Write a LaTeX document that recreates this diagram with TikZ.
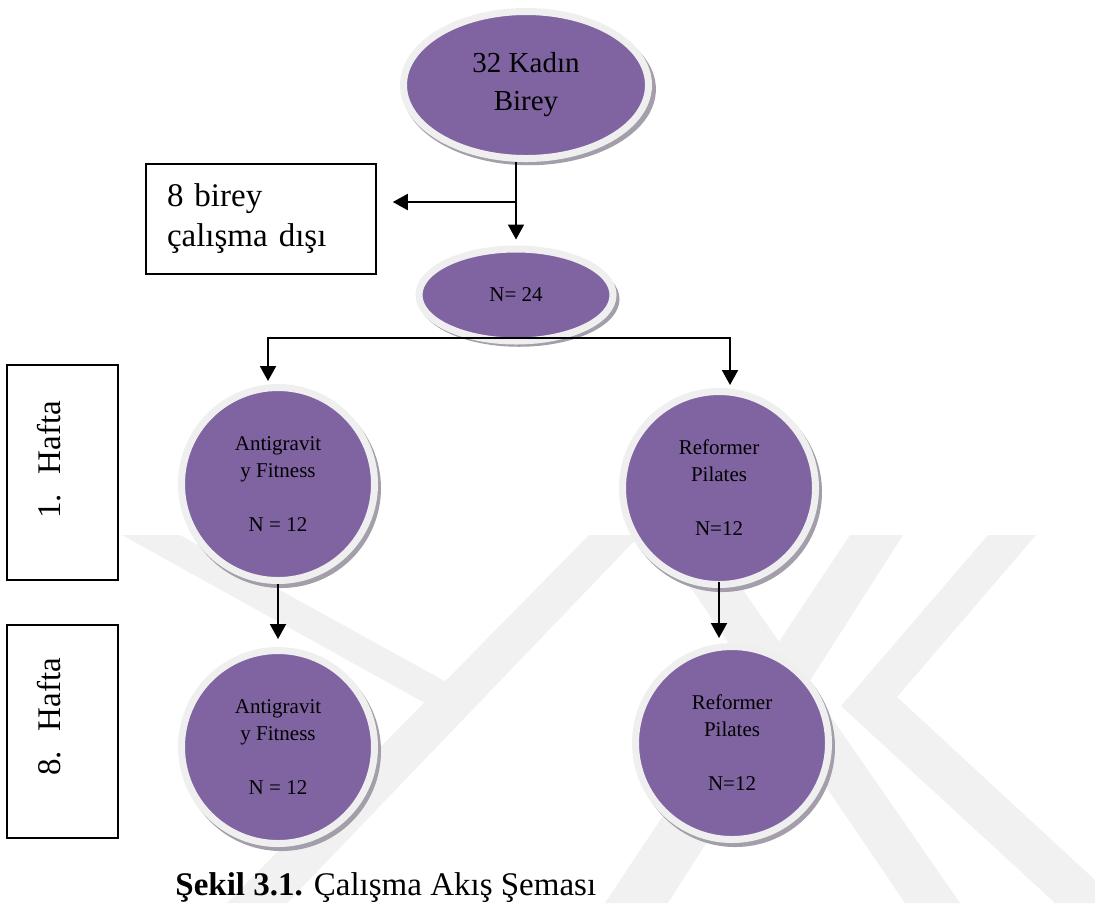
\documentclass[tikz,border=0pt]{standalone}
\usepackage{fontspec}
\setmainfont{Liberation Serif}
\usetikzlibrary{shapes.geometric,arrows.meta,shadows}

\definecolor{blobfill}{RGB}{128,100,162}
\definecolor{blobrim}{RGB}{239,239,239}
\definecolor{blobshade}{RGB}{163,158,170}
\definecolor{wmark}{RGB}{241,241,241}

\tikzset{
  blob/.style={ellipse, fill=blobfill, draw=blobrim, line width=3.5pt, inner sep=0pt, align=center,
    general shadow={fill=blobshade, shadow scale=1.035, shadow xshift=1.5pt, shadow yshift=-2pt}},
  bubble/.style={blob, circle, minimum size=96.5pt, font=\fontsize{10.5}{13.5}\selectfont},
  frame/.style={draw, line width=0.8pt, inner sep=0pt},
  bigtext/.style={font=\fontsize{16.5}{20}\selectfont},
  weektext/.style={bigtext, rotate=90, anchor=base, inner sep=0pt},
  arr/.style={line width=1pt, -{Triangle[length=7.5pt,width=8pt]}}
}

\begin{document}
\begin{tikzpicture}[x=0.5pt, y=-0.5pt]
    \useasboundingbox (0,0) rectangle (1095,918);

    \fill[wmark] (122,535) -- (180,535) -- (461,690) -- (441,712) -- cycle;
    \fill[wmark] (589,535) -- (640,535) -- (287,903) -- (227,903) -- cycle;
    \fill[wmark] (655,535) -- (705,535) -- (960,903) -- (905,903) -- cycle;
    \fill[wmark] (850,535) -- (903,535) -- (668,903) -- (605,903) -- cycle;
    \fill[wmark] (988,535) -- (1036,535) -- (897,697) -- (1120,903) -- (1055,903) -- (841,706) -- cycle;

    \node[blob, minimum width=122.5pt, minimum height=73.5pt, font=\fontsize{14.5}{19}\selectfont] (top) at (526,85) {32 Kadın\\Birey};
    \node[frame, bigtext, minimum width=115pt, minimum height=55pt, text width=94pt, inner xsep=10.5pt, align=left] (out) at (261,219) {8 birey\\çalışma dışı};
    \node[blob, minimum width=97pt, minimum height=46pt, font=\fontsize{10.5}{13}\selectfont] (n24) at (516,295) {N= 24};
    \coordinate (split) at (516,202);
    \coordinate (fork) at (516,338);

    \node[bubble] (ag1) at (278,484) {Antigravit\\y Fitness\\[13.5pt]N = 12};
    \node[bubble] (rp1) at (719,488) {Reformer\\Pilates\\[13.5pt]N=12};
    \node[bubble] (ag8) at (278,747) {Antigravit\\y Fitness\\[13.5pt]N = 12};
    \node[bubble] (rp8) at (732,743) {Reformer\\Pilates\\[13.5pt]N=12};

    \node[frame, minimum width=55.5pt, minimum height=107.5pt] (wk1) at (62.5,472.5) {};
    \node[frame, minimum width=55.5pt, minimum height=106.5pt] (wk8) at (62.5,731.5) {};
    \node[weektext] (wk1txt) at (60,460) {1.\hspace{0.6em}Hafta};
    \node[weektext] (wk8txt) at (60,717) {8.\hspace{0.6em}Hafta};

    \draw[arr, shorten >=3pt] (n24.north |- top.south) -- (n24.north);
    \draw[arr, shorten >=8pt] (split) -- (split -| out.east);
    \draw[arr, shorten >=1.5pt] (fork) -| ([xshift=-5pt]ag1.north);
    \draw[arr, shorten >=1.5pt] (fork) -| ([xshift=5.5pt]rp1.north);
    \draw[arr, shorten >=4pt] (ag1.south) -- (ag1.south |- ag8.north);
    \draw[arr, shorten >=2.5pt] ([yshift=3pt]rp1.south) -- (rp1.south |- rp8.north);

    \node[bigtext, anchor=base west, inner sep=0pt] (caption) at (175,895) {\textbf{Şekil 3.1.} Çalışma Akış Şeması};
\end{tikzpicture}
\end{document}
